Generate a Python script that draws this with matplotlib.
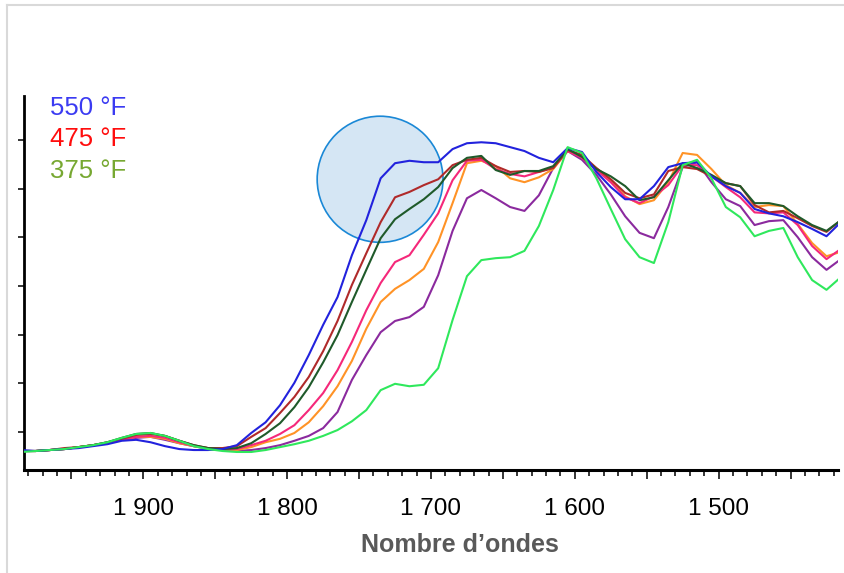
import numpy as np
import matplotlib
matplotlib.use('Agg')
import matplotlib.pyplot as plt
import matplotlib.ticker as tick
from matplotlib.patches import Ellipse
from matplotlib.lines import Line2D

plt.rcParams['font.family'] = ['Liberation Sans', 'DejaVu Sans']

# nombre d'ondes (cm-1), pas de 10, de 1985 a 1415
nu = np.arange(1985, 1414, -10)

# absorbance (unites arbitraires)
bleu = [0.63, 0.61, 0.63, 0.65, 0.67, 0.71, 0.75, 0.82, 0.84, 0.79, 0.71, 0.65, 0.63, 0.63, 0.65, 0.73,
        0.98, 1.20, 1.55, 2.01, 2.58, 3.20, 3.77, 4.63, 5.35, 6.21, 6.52, 6.57, 6.54, 6.54, 6.81, 6.93,
        6.95, 6.93, 6.85, 6.77, 6.63, 6.54, 6.83,
        6.75, 6.34, 6.03, 5.78, 5.78, 6.05, 6.44, 6.52, 6.54, 6.25, 6.05, 5.91, 5.58, 5.49, 5.43, 5.31,
        5.17, 5.02, 5.31]
rouge_fonce = [0.61, 0.61, 0.63, 0.67, 0.69, 0.73, 0.79, 0.86, 0.94, 0.96, 0.92, 0.82, 0.73, 0.67, 0.67, 0.71,
               0.90, 1.08, 1.39, 1.72, 2.13, 2.66, 3.28, 4.02, 4.67, 5.31, 5.82, 5.93, 6.07, 6.19, 6.48, 6.59,
               6.63, 6.46, 6.34, 6.36, 6.34, 6.42, 6.79,
               6.69, 6.42, 6.19, 5.91, 5.80, 5.88, 6.36, 6.44, 6.40, 6.25, 6.11, 6.05, 5.66, 5.51, 5.54, 5.39,
               5.23, 5.11, 5.35]
vert_fonce = [0.61, 0.61, 0.63, 0.65, 0.69, 0.73, 0.79, 0.88, 0.96, 0.98, 0.92, 0.82, 0.73, 0.67, 0.65, 0.67,
              0.77, 0.96, 1.18, 1.51, 1.92, 2.43, 2.99, 3.67, 4.33, 4.98, 5.37, 5.58, 5.78, 6.03, 6.42, 6.63,
              6.67, 6.38, 6.28, 6.36, 6.36, 6.46, 6.81,
              6.65, 6.40, 6.25, 6.05, 5.76, 5.82, 6.17, 6.52, 6.42, 6.28, 6.11, 6.05, 5.70, 5.70, 5.64, 5.43,
              5.25, 5.13, 5.35]
rose = [0.61, 0.61, 0.63, 0.65, 0.69, 0.73, 0.77, 0.84, 0.90, 0.92, 0.88, 0.79, 0.71, 0.67, 0.65, 0.65,
        0.73, 0.82, 0.96, 1.14, 1.45, 1.80, 2.27, 2.85, 3.50, 4.06, 4.49, 4.63, 5.05, 5.49, 6.17, 6.57,
        6.59, 6.40, 6.30, 6.25, 6.34, 6.44, 6.77,
        6.63, 6.38, 6.13, 5.82, 5.70, 5.84, 6.07, 6.48, 6.48, 6.25, 6.03, 5.82, 5.51, 5.49, 5.51, 5.25,
        4.82, 4.55, 4.76]
orange = [0.61, 0.61, 0.63, 0.65, 0.69, 0.73, 0.77, 0.84, 0.90, 0.90, 0.86, 0.77, 0.71, 0.67, 0.65, 0.63,
          0.69, 0.79, 0.86, 0.98, 1.20, 1.53, 1.94, 2.46, 3.12, 3.67, 3.94, 4.12, 4.35, 4.90, 5.70, 6.52,
          6.57, 6.46, 6.21, 6.13, 6.23, 6.40, 6.77,
          6.65, 6.42, 6.17, 5.84, 5.68, 5.76, 6.13, 6.73, 6.69, 6.40, 6.07, 5.91, 5.62, 5.66, 5.64, 5.27,
          4.88, 4.61, 4.70]
violet = [0.61, 0.61, 0.63, 0.65, 0.69, 0.73, 0.77, 0.84, 0.88, 0.90, 0.84, 0.77, 0.71, 0.65, 0.63, 0.61,
          0.63, 0.67, 0.73, 0.82, 0.92, 1.08, 1.41, 2.07, 2.58, 3.05, 3.28, 3.36, 3.57, 4.22, 5.13, 5.80,
          5.97, 5.80, 5.62, 5.54, 5.86, 6.42, 6.77,
          6.59, 6.28, 5.88, 5.43, 5.09, 4.98, 5.62, 6.44, 6.54, 6.13, 5.78, 5.64, 5.25, 5.33, 5.35, 5.00,
          4.59, 4.33, 4.55]
vert = [0.59, 0.61, 0.63, 0.65, 0.69, 0.73, 0.79, 0.88, 0.96, 0.98, 0.92, 0.82, 0.71, 0.65, 0.61, 0.59,
        0.59, 0.63, 0.69, 0.75, 0.82, 0.92, 1.04, 1.22, 1.45, 1.86, 1.99, 1.94, 1.97, 2.31, 3.30, 4.20,
        4.53, 4.57, 4.59, 4.72, 5.23, 5.97, 6.85,
        6.73, 6.21, 5.58, 4.96, 4.59, 4.47, 5.31, 6.48, 6.59, 6.21, 5.62, 5.41, 5.02, 5.13, 5.19, 4.59,
        4.12, 3.92, 4.18]

temperatures = ['550 °F', '475 °F', '375 °F']
couleurs_temp = ['#3b3bf2', '#ff0d0d', '#77a832']

fig = plt.figure(figsize=(8.44, 5.73), dpi=100)
ax = fig.add_axes([24/844, 103/573, 814/844, 374/573])

# zone mise en evidence
ax.add_patch(Ellipse((1735.4, 6.19), 87.5, 2.59, facecolor='#d5e6f4', edgecolor='#1a88d6',
                     lw=1.2, zorder=2))

kw = dict(lw=1.5, zorder=3, solid_joinstyle='round')
ax.plot(nu, violet, color='#8b2a9e', **kw)
ax.plot(nu, orange, color='#ff9326', **kw)
ax.plot(nu, rose, color='#f5287a', **kw)
ax.plot(nu, rouge_fonce, color='#b02a2a', **kw)
ax.plot(nu, vert_fonce, color='#1f5a2a', **kw)
ax.plot(nu, bleu, color='#2222dd', **kw)
ax.plot(nu, vert, color='#2fe85c', **kw)

ax.set_xlim(1983, 1417)
ax.set_ylim(0.22, 7.9)

def fmt(v, pos):
    v = int(round(v))
    if v % 100:
        return ''
    return f'{v // 1000} {v % 1000:03d}'

ax.xaxis.set_major_locator(tick.MultipleLocator(50))
ax.xaxis.set_minor_locator(tick.MultipleLocator(10))
ax.xaxis.set_major_formatter(tick.FuncFormatter(fmt))
ax.yaxis.set_major_locator(tick.MultipleLocator(1))
ax.yaxis.set_major_formatter(tick.NullFormatter())

ax.tick_params(axis='x', which='major', length=6.5, width=1.1, pad=13.5, labelsize=17.5, colors='black')
ax.tick_params(axis='x', which='minor', length=4, width=1.1)
ax.tick_params(axis='y', which='major', length=4.5, width=1.1)

for s in ['top', 'right']:
    ax.spines[s].set_visible(False)
ax.spines['bottom'].set_linewidth(2.2)
ax.spines['left'].set_linewidth(2.0)

fig.text(460/844, 1 - 545/573, 'Nombre d’ondes', ha='center', va='center',
         fontsize=18, fontweight='bold', color='#595959')

for i, (t, c) in enumerate(zip(temperatures, couleurs_temp)):
    fig.text(50/844, 1 - (108 + 31.5*i)/573, t, ha='left', va='center', fontsize=18.5, color=c)

# cadre gris
fig.add_artist(Line2D([7/844, 7/844], [0, 1 - 5/573], color='#d9d9d9', lw=1.5))
fig.add_artist(Line2D([7/844, 1], [1 - 5/573, 1 - 5/573], color='#d9d9d9', lw=1.5))

fig.savefig('out.png', dpi=100)
